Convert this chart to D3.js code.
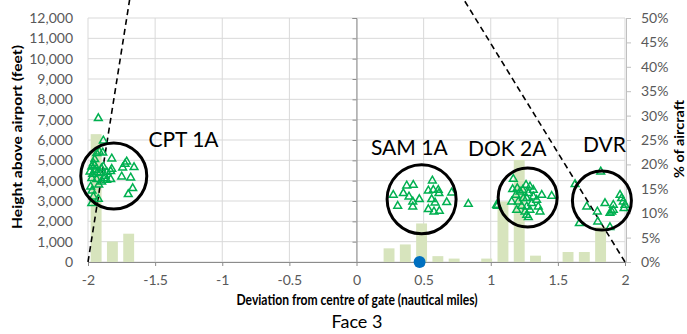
<!DOCTYPE html>
<html>
<head>
<meta charset="utf-8">
<script src="https://cdn.jsdelivr.net/npm/d3@7"></script>
<style>
  html, body { margin: 0; padding: 0; background: #fff; }
  svg { display: block; font-family: Lato, "Open Sans", sans-serif; }
</style>
</head>
<body>
<svg id="chart" width="687" height="334"></svg>
<script>
// Histogram bins (deviation, nm) and share of aircraft in each bin (%)
const binCentres = d3.range(33).map(i => -2 + i * 0.125);
const binShare = [26.2, 4.2, 5.8, 0, 0, 0, 0, 0, 0, 0, 0, 0, 0, 0, 0, 0, 0, 0,
                  2.8, 3.6, 7.9, 1.2, 0.7, 0, 0.7, 12.4, 20.9, 1.3, 0, 2.05, 2.05, 7.2, 0];

// Individual aircraft: deviation (nm) and height above airport (ft)
const cptDev = [-1.923, -1.886, -1.916, -1.89, -1.935, -1.823, -1.712, -1.724, -1.657, -1.742,
                -1.823, -1.831, -1.886, -1.96, -1.972, -1.948, -1.985, -1.965, -1.911, -1.873,
                -1.749, -1.682, -1.972, -1.935, -1.861, -1.831, -1.898, -1.98, -1.667, -1.7,
                -1.96, -1.923, -1.972, -1.95, -1.93, -1.9, -1.88, -1.92, -1.97, -1.95, -1.86];
const cptHeight = [7067, 5966, 5425, 5375, 5345, 5080, 4933, 4820, 4657, 4638,
                   4574, 4460, 4687, 4854, 4687, 4525, 4441, 4328, 4362, 4230,
                   4195, 4146, 4116, 4067, 4033, 4067, 3949, 3703, 3624, 3330,
                   3211, 3098, 2887, 4750, 4400, 4600, 4100, 3800, 3500, 5050, 4420];

const samDev = [0.274, 0.307, 0.374, 0.423, 0.349, 0.391, 0.419, 0.419, 0.468, 0.565,
                0.535, 0.572, 0.609, 0.614, 0.56, 0.585, 0.535, 0.577, 0.617, 0.672,
                0.709, 0.833];
const samHeight = [3295, 2754, 3753, 3787, 3378, 3212, 2967, 2720, 3083, 3999,
                   3507, 3541, 3541, 3378, 3083, 2918, 2592, 2475, 2508, 2936,
                   3408, 2852];

const dokDev = [1.044, 1.168, 1.163, 1.049, 1.156, 1.188, 1.218, 1.263, 1.292, 1.317,
                1.28, 1.243, 1.205, 1.23, 1.268, 1.305, 1.342, 1.317, 1.38, 1.454,
                1.354, 1.367, 1.268, 1.28, 1.193, 1.255, 1.292, 1.238, 1.268, 1.198];
const dokHeight = [2803, 4082, 3575, 2754, 2967, 3295, 3457, 3787, 3703, 3541,
                   3378, 3133, 2967, 2754, 2720, 2887, 3049, 3212, 3295, 3246,
                   2720, 2475, 2311, 2198, 2557, 2475, 2557, 3541, 3133, 3624];

const dvrDev = [1.819, 1.628, 1.715, 1.794, 1.797, 1.66, 1.851, 1.913, 1.913, 1.901,
                1.963, 1.975, 1.987, 2.0, 1.993, 1.888, 1.888];
const dvrHeight = [4441, 3821, 2720, 2475, 1982, 1903, 2887, 2803, 2557, 2475,
                   3295, 3133, 2967, 2803, 2641, 1707, 2410];

// Gate centre marker
const gateMark = [{ dev: 0.47, height: 0 }];

// Sector boundary lines (dev, height)
const boundaryLeft = [{ dev: -2, height: 0 }, { dev: -1.69, height: 12900 }];
const boundaryRight = [{ dev: 2, height: 0 }, { dev: 0.8, height: 12900 }];

// Route labels and their enclosing rings (centre dev/height, radius in px)
const routeNames = ["CPT 1A", "SAM 1A", "DOK 2A", "DVR"];
const labelDev = [-1.55, 0.108, 0.83, 1.687];
const labelHeight = [5656, 5262, 5213, 5410];
const ringDev = [-1.808, 0.485, 1.275, 1.828];
const ringHeight = [4230, 3090, 3170, 3020];
const ringRadius = [33, 34.5, 29.5, 29.5];

const yTicks = d3.range(0, 12001, 1000);
const xTicks = d3.range(-2, 2.001, 0.5);
const pctTicks = d3.range(0, 51, 5);

const svg = d3.select("#chart");
const plot = { left: 88, right: 625, top: 18, bottom: 262 };

const x = d3.scaleLinear().domain([-2, 2]).range([plot.left, plot.right]);
const y = d3.scaleLinear().domain([0, 12000]).range([plot.bottom, plot.top]);
const yPct = d3.scaleLinear().domain([0, 50]).range([plot.bottom, plot.top]);
const band = d3.scaleBand().domain(binCentres).range([plot.left, plot.right])
  .paddingInner(0.33).paddingOuter(0.165);

const gridColor = "#d9d9d9";
const axisColor = "#8c8c8c";
const labelColor = "#595959";

// Gridlines
svg.append("g").selectAll("line").data(yTicks).join("line")
  .attr("x1", plot.left).attr("x2", plot.right)
  .attr("y1", d => y(d)).attr("y2", d => y(d))
  .attr("stroke", gridColor).attr("stroke-width", 1);
svg.append("g").selectAll("line").data(xTicks).join("line")
  .attr("x1", d => x(d)).attr("x2", d => x(d))
  .attr("y1", plot.top).attr("y2", plot.bottom)
  .attr("stroke", gridColor).attr("stroke-width", 1);

// Histogram bars (right axis)
svg.append("g").selectAll("rect").data(binCentres.map((c, i) => ({ c, v: binShare[i] })).filter(d => d.v > 0))
  .join("rect")
  .attr("x", d => band(d.c)).attr("width", band.bandwidth())
  .attr("y", d => yPct(d.v)).attr("height", d => yPct(0) - yPct(d.v))
  .attr("fill", "#d7e4bd");

// Vertical value axis drawn at zero deviation
const yAxisAtZero = svg.append("g").attr("transform", `translate(${x(0)},0)`)
  .call(d3.axisLeft(y).tickValues(yTicks).tickSize(4).tickFormat(""));
yAxisAtZero.select(".domain").attr("stroke", axisColor);
yAxisAtZero.selectAll(".tick line").attr("stroke", axisColor);

// Left tick labels
svg.append("g").selectAll("text").data(yTicks).join("text")
  .attr("x", 73).attr("y", d => y(d)).attr("dy", "0.35em")
  .attr("text-anchor", "end").attr("font-size", 14).attr("fill", labelColor)
  .text(d => d3.format(",")(d));

// Bottom axis (plain hyphen for negatives)
const xAxis = svg.append("g").attr("transform", `translate(0,${plot.bottom})`)
  .call(d3.axisBottom(x).tickValues(xTicks).tickSize(4).tickPadding(9)
    .tickFormat(d => String(+d.toFixed(1))));
xAxis.select(".domain").attr("stroke", axisColor);
xAxis.selectAll(".tick line").attr("stroke", axisColor);
xAxis.selectAll(".tick text").attr("font-size", 14).attr("fill", labelColor)
  .attr("font-family", "Lato, sans-serif");

// Right percentage axis
const rAxis = svg.append("g").attr("transform", `translate(${plot.right + 1},0)`)
  .call(d3.axisRight(yPct).tickValues(pctTicks).tickSize(5).tickPadding(10)
    .tickFormat(d => d + "%"));
rAxis.select(".domain").attr("stroke", "#bfbfbf");
rAxis.selectAll(".tick line").attr("stroke", "#bfbfbf");
rAxis.selectAll(".tick text").attr("font-size", 14).attr("fill", labelColor)
  .attr("font-family", "Lato, sans-serif");

// Sector boundary dashed lines
const line = d3.line().x(d => x(d.dev)).y(d => y(d.height));
[boundaryLeft, boundaryRight].forEach(b => {
  svg.append("path").attr("d", line(b)).attr("fill", "none")
    .attr("stroke", "#000").attr("stroke-width", 1.6).attr("stroke-dasharray", "6,4");
});

// Aircraft triangles
const tri = d3.symbol().type(d3.symbolTriangle).size(26);
const points = [];
[[cptDev, cptHeight], [samDev, samHeight], [dokDev, dokHeight], [dvrDev, dvrHeight]]
  .forEach(([dv, ht]) => dv.forEach((d, i) => points.push({ dev: d, height: ht[i] })));
svg.append("g").selectAll("path").data(points).join("path")
  .attr("d", tri)
  .attr("transform", d => `translate(${x(d.dev)},${y(d.height)})`)
  .attr("fill", "none").attr("stroke", "#00b050").attr("stroke-width", 1.5);

// Gate centre marker
svg.append("g").selectAll("circle").data(gateMark).join("circle")
  .attr("cx", d => x(d.dev)).attr("cy", d => y(d.height)).attr("r", 6)
  .attr("fill", "#0070c0");

// Route rings and names
svg.append("g").selectAll("circle").data(routeNames).join("circle")
  .attr("cx", (d, i) => x(ringDev[i])).attr("cy", (d, i) => y(ringHeight[i]))
  .attr("r", (d, i) => ringRadius[i])
  .attr("fill", "none").attr("stroke", "#000").attr("stroke-width", 3);
svg.append("g").selectAll("text").data(routeNames).join("text")
  .attr("x", (d, i) => x(labelDev[i])).attr("y", (d, i) => y(labelHeight[i]))
  .attr("font-size", 21).attr("fill", "#000")
  .text(d => d);

// Axis titles
svg.append("text")
  .attr("transform", `translate(22,137) rotate(-90)`)
  .attr("text-anchor", "middle").attr("font-size", 14).attr("font-weight", "bold")
  .attr("textLength", 184).attr("lengthAdjust", "spacingAndGlyphs")
  .attr("fill", "#000").text("Height above airport (feet)");
svg.append("text")
  .attr("transform", `translate(684,139) rotate(-90)`)
  .attr("text-anchor", "middle").attr("font-size", 13).attr("font-weight", "bold")
  .attr("textLength", 78).attr("lengthAdjust", "spacingAndGlyphs")
  .attr("fill", "#000").text("% of aircraft");
svg.append("text")
  .attr("x", 357).attr("y", 305)
  .attr("text-anchor", "middle").attr("font-size", 14.5).attr("font-weight", "bold")
  .attr("textLength", 241).attr("lengthAdjust", "spacingAndGlyphs")
  .attr("fill", "#000").text("Deviation from centre of gate (nautical miles)");
svg.append("text")
  .attr("x", 357).attr("y", 328)
  .attr("text-anchor", "middle").attr("font-size", 18)
  .attr("fill", "#000").text("Face 3");
</script>
</body>
</html>
